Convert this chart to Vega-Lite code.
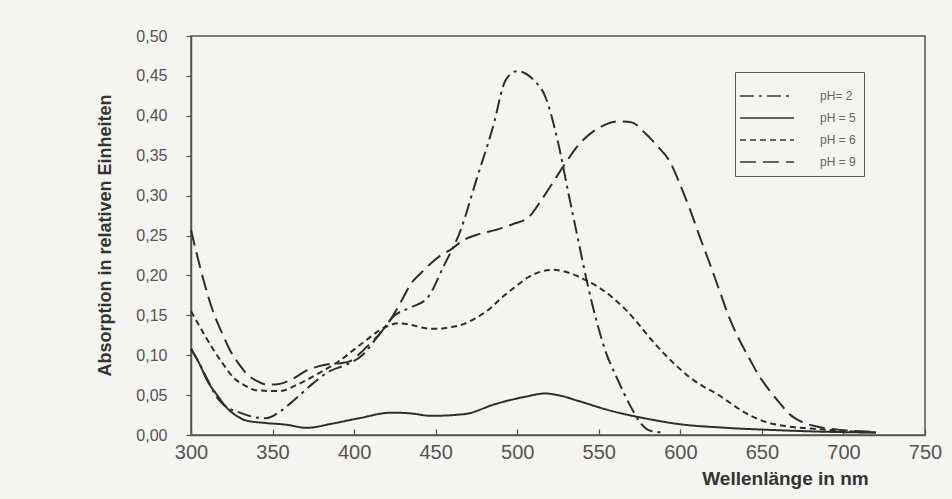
{
  "$schema": "https://vega.github.io/schema/vega-lite/v6.json",
  "width": 734,
  "height": 399,
  "autosize": {"type": "none"},
  "padding": {"left": 191, "top": 36, "right": 27, "bottom": 64},
  "background": "#f4f4f0",
  "config": {
    "font": "Liberation Sans",
    "view": {"stroke": "#555555", "strokeWidth": 1.5},
    "axis": {"grid": false, "domainColor": "#555555", "domainWidth": 1.5, "tickColor": "#555555", "tickWidth": 1.2, "labelColor": "#555555", "titleColor": "#333333", "labelFont": "Liberation Sans", "titleFont": "Liberation Sans", "labelFlush": false}
  },
  "data": {"values": [
    {"s": "pH= 2", "nm": 300, "a": 0.108}, {"s": "pH= 2", "nm": 305, "a": 0.09}, {"s": "pH= 2", "nm": 310, "a": 0.07}, {"s": "pH= 2", "nm": 315, "a": 0.05}, {"s": "pH= 2", "nm": 320, "a": 0.038}, {"s": "pH= 2", "nm": 330, "a": 0.028}, {"s": "pH= 2", "nm": 340, "a": 0.022}, {"s": "pH= 2", "nm": 346, "a": 0.021}, {"s": "pH= 2", "nm": 355, "a": 0.03}, {"s": "pH= 2", "nm": 365, "a": 0.047}, {"s": "pH= 2", "nm": 375, "a": 0.065}, {"s": "pH= 2", "nm": 385, "a": 0.08}, {"s": "pH= 2", "nm": 395, "a": 0.088}, {"s": "pH= 2", "nm": 405, "a": 0.1}, {"s": "pH= 2", "nm": 415, "a": 0.125}, {"s": "pH= 2", "nm": 425, "a": 0.15}, {"s": "pH= 2", "nm": 435, "a": 0.16}, {"s": "pH= 2", "nm": 445, "a": 0.172}, {"s": "pH= 2", "nm": 455, "a": 0.212}, {"s": "pH= 2", "nm": 465, "a": 0.255}, {"s": "pH= 2", "nm": 475, "a": 0.32}, {"s": "pH= 2", "nm": 485, "a": 0.385}, {"s": "pH= 2", "nm": 493, "a": 0.445}, {"s": "pH= 2", "nm": 500, "a": 0.456}, {"s": "pH= 2", "nm": 510, "a": 0.445}, {"s": "pH= 2", "nm": 517, "a": 0.425}, {"s": "pH= 2", "nm": 525, "a": 0.367}, {"s": "pH= 2", "nm": 531, "a": 0.307}, {"s": "pH= 2", "nm": 537, "a": 0.248}, {"s": "pH= 2", "nm": 543, "a": 0.19}, {"s": "pH= 2", "nm": 549, "a": 0.14}, {"s": "pH= 2", "nm": 555, "a": 0.1}, {"s": "pH= 2", "nm": 561, "a": 0.072}, {"s": "pH= 2", "nm": 570, "a": 0.034}, {"s": "pH= 2", "nm": 576, "a": 0.014}, {"s": "pH= 2", "nm": 582, "a": 0.005}, {"s": "pH= 2", "nm": 590, "a": 0.003},
    {"s": "pH = 5", "nm": 300, "a": 0.108}, {"s": "pH = 5", "nm": 305, "a": 0.09}, {"s": "pH = 5", "nm": 310, "a": 0.068}, {"s": "pH = 5", "nm": 316, "a": 0.05}, {"s": "pH = 5", "nm": 322, "a": 0.034}, {"s": "pH = 5", "nm": 328, "a": 0.024}, {"s": "pH = 5", "nm": 334, "a": 0.018}, {"s": "pH = 5", "nm": 346, "a": 0.015}, {"s": "pH = 5", "nm": 358, "a": 0.013}, {"s": "pH = 5", "nm": 371, "a": 0.009}, {"s": "pH = 5", "nm": 386, "a": 0.014}, {"s": "pH = 5", "nm": 403, "a": 0.021}, {"s": "pH = 5", "nm": 423, "a": 0.028}, {"s": "pH = 5", "nm": 435, "a": 0.027}, {"s": "pH = 5", "nm": 447, "a": 0.024}, {"s": "pH = 5", "nm": 467, "a": 0.026}, {"s": "pH = 5", "nm": 487, "a": 0.039}, {"s": "pH = 5", "nm": 505, "a": 0.048}, {"s": "pH = 5", "nm": 517, "a": 0.052}, {"s": "pH = 5", "nm": 527, "a": 0.049}, {"s": "pH = 5", "nm": 537, "a": 0.043}, {"s": "pH = 5", "nm": 558, "a": 0.03}, {"s": "pH = 5", "nm": 578, "a": 0.021}, {"s": "pH = 5", "nm": 598, "a": 0.014}, {"s": "pH = 5", "nm": 628, "a": 0.009}, {"s": "pH = 5", "nm": 660, "a": 0.006}, {"s": "pH = 5", "nm": 690, "a": 0.004}, {"s": "pH = 5", "nm": 720, "a": 0.003},
    {"s": "pH = 6", "nm": 300, "a": 0.155}, {"s": "pH = 6", "nm": 307, "a": 0.13}, {"s": "pH = 6", "nm": 314, "a": 0.106}, {"s": "pH = 6", "nm": 320, "a": 0.088}, {"s": "pH = 6", "nm": 326, "a": 0.072}, {"s": "pH = 6", "nm": 333, "a": 0.062}, {"s": "pH = 6", "nm": 340, "a": 0.056}, {"s": "pH = 6", "nm": 354, "a": 0.055}, {"s": "pH = 6", "nm": 366, "a": 0.064}, {"s": "pH = 6", "nm": 378, "a": 0.077}, {"s": "pH = 6", "nm": 391, "a": 0.093}, {"s": "pH = 6", "nm": 405, "a": 0.115}, {"s": "pH = 6", "nm": 419, "a": 0.135}, {"s": "pH = 6", "nm": 427, "a": 0.14}, {"s": "pH = 6", "nm": 435, "a": 0.138}, {"s": "pH = 6", "nm": 443, "a": 0.134}, {"s": "pH = 6", "nm": 451, "a": 0.133}, {"s": "pH = 6", "nm": 459, "a": 0.135}, {"s": "pH = 6", "nm": 467, "a": 0.139}, {"s": "pH = 6", "nm": 475, "a": 0.147}, {"s": "pH = 6", "nm": 483, "a": 0.158}, {"s": "pH = 6", "nm": 491, "a": 0.173}, {"s": "pH = 6", "nm": 499, "a": 0.186}, {"s": "pH = 6", "nm": 507, "a": 0.198}, {"s": "pH = 6", "nm": 515, "a": 0.205}, {"s": "pH = 6", "nm": 522, "a": 0.207}, {"s": "pH = 6", "nm": 532, "a": 0.203}, {"s": "pH = 6", "nm": 542, "a": 0.194}, {"s": "pH = 6", "nm": 550, "a": 0.185}, {"s": "pH = 6", "nm": 558, "a": 0.173}, {"s": "pH = 6", "nm": 566, "a": 0.158}, {"s": "pH = 6", "nm": 574, "a": 0.14}, {"s": "pH = 6", "nm": 582, "a": 0.12}, {"s": "pH = 6", "nm": 590, "a": 0.102}, {"s": "pH = 6", "nm": 598, "a": 0.086}, {"s": "pH = 6", "nm": 606, "a": 0.072}, {"s": "pH = 6", "nm": 614, "a": 0.061}, {"s": "pH = 6", "nm": 622, "a": 0.052}, {"s": "pH = 6", "nm": 630, "a": 0.041}, {"s": "pH = 6", "nm": 638, "a": 0.03}, {"s": "pH = 6", "nm": 650, "a": 0.018}, {"s": "pH = 6", "nm": 665, "a": 0.011}, {"s": "pH = 6", "nm": 680, "a": 0.008}, {"s": "pH = 6", "nm": 700, "a": 0.005}, {"s": "pH = 6", "nm": 720, "a": 0.003},
    {"s": "pH = 9", "nm": 300, "a": 0.257}, {"s": "pH = 9", "nm": 306, "a": 0.207}, {"s": "pH = 9", "nm": 314, "a": 0.152}, {"s": "pH = 9", "nm": 319, "a": 0.128}, {"s": "pH = 9", "nm": 324, "a": 0.106}, {"s": "pH = 9", "nm": 329, "a": 0.09}, {"s": "pH = 9", "nm": 334, "a": 0.077}, {"s": "pH = 9", "nm": 340, "a": 0.068}, {"s": "pH = 9", "nm": 347, "a": 0.063}, {"s": "pH = 9", "nm": 354, "a": 0.064}, {"s": "pH = 9", "nm": 362, "a": 0.07}, {"s": "pH = 9", "nm": 371, "a": 0.081}, {"s": "pH = 9", "nm": 378, "a": 0.086}, {"s": "pH = 9", "nm": 385, "a": 0.089}, {"s": "pH = 9", "nm": 392, "a": 0.09}, {"s": "pH = 9", "nm": 398, "a": 0.093}, {"s": "pH = 9", "nm": 404, "a": 0.103}, {"s": "pH = 9", "nm": 410, "a": 0.115}, {"s": "pH = 9", "nm": 417, "a": 0.13}, {"s": "pH = 9", "nm": 423, "a": 0.147}, {"s": "pH = 9", "nm": 429, "a": 0.168}, {"s": "pH = 9", "nm": 435, "a": 0.19}, {"s": "pH = 9", "nm": 441, "a": 0.203}, {"s": "pH = 9", "nm": 447, "a": 0.215}, {"s": "pH = 9", "nm": 453, "a": 0.225}, {"s": "pH = 9", "nm": 459, "a": 0.232}, {"s": "pH = 9", "nm": 467, "a": 0.244}, {"s": "pH = 9", "nm": 477, "a": 0.252}, {"s": "pH = 9", "nm": 487, "a": 0.257}, {"s": "pH = 9", "nm": 497, "a": 0.264}, {"s": "pH = 9", "nm": 507, "a": 0.273}, {"s": "pH = 9", "nm": 515, "a": 0.295}, {"s": "pH = 9", "nm": 523, "a": 0.32}, {"s": "pH = 9", "nm": 530, "a": 0.342}, {"s": "pH = 9", "nm": 537, "a": 0.362}, {"s": "pH = 9", "nm": 545, "a": 0.378}, {"s": "pH = 9", "nm": 553, "a": 0.388}, {"s": "pH = 9", "nm": 562, "a": 0.393}, {"s": "pH = 9", "nm": 570, "a": 0.392}, {"s": "pH = 9", "nm": 578, "a": 0.379}, {"s": "pH = 9", "nm": 586, "a": 0.362}, {"s": "pH = 9", "nm": 594, "a": 0.341}, {"s": "pH = 9", "nm": 600, "a": 0.313}, {"s": "pH = 9", "nm": 606, "a": 0.282}, {"s": "pH = 9", "nm": 612, "a": 0.248}, {"s": "pH = 9", "nm": 618, "a": 0.215}, {"s": "pH = 9", "nm": 624, "a": 0.181}, {"s": "pH = 9", "nm": 630, "a": 0.147}, {"s": "pH = 9", "nm": 636, "a": 0.12}, {"s": "pH = 9", "nm": 642, "a": 0.097}, {"s": "pH = 9", "nm": 648, "a": 0.075}, {"s": "pH = 9", "nm": 655, "a": 0.055}, {"s": "pH = 9", "nm": 661, "a": 0.04}, {"s": "pH = 9", "nm": 667, "a": 0.026}, {"s": "pH = 9", "nm": 675, "a": 0.016}, {"s": "pH = 9", "nm": 685, "a": 0.01}, {"s": "pH = 9", "nm": 700, "a": 0.006}, {"s": "pH = 9", "nm": 720, "a": 0.004}
  ]},
  "mark": {"type": "line", "interpolate": "monotone", "stroke": "#2e2e2e", "strokeWidth": 2},
  "encoding": {
    "x": {
      "field": "nm", "type": "quantitative",
      "scale": {"domain": [300, 750], "nice": false, "zero": false},
      "axis": {"values": [300, 350, 400, 450, 500, 550, 600, 650, 700, 750], "tickSize": -6, "labelFontSize": 20, "labelPadding": 13, "title": "Wellenlänge in nm", "titleFontSize": 19, "titleFontWeight": "bold", "titleX": 594, "titleY": 43, "titleAnchor": "middle", "titleAlign": "center", "titleBaseline": "middle"}
    },
    "y": {
      "field": "a", "type": "quantitative",
      "scale": {"domain": [0, 0.5], "nice": false},
      "axis": {"values": [0, 0.05, 0.1, 0.15, 0.2, 0.25, 0.3, 0.35, 0.4, 0.45, 0.5], "labelExpr": "replace(format(datum.value, '.2f'), '.', ',')", "tickSize": 5, "labelFontSize": 16, "labelPadding": 19, "title": "Absorption in relativen Einheiten", "titleFontSize": 18, "titleFontWeight": "bold", "titleAngle": 270, "titleX": -86, "titleY": 199, "titleAlign": "center", "titleBaseline": "middle"}
    },
    "strokeDash": {
      "field": "s", "type": "nominal",
      "scale": {"domain": ["pH= 2", "pH = 5", "pH = 6", "pH = 9"], "range": [[14, 5, 3, 5], [1, 0], [6, 4], [16, 7]]},
      "legend": {"orient": "none", "legendX": 544, "legendY": 36, "title": null, "symbolType": "M-1.27,0H2.33", "symbolSize": 900, "symbolStrokeWidth": 1.6, "symbolStrokeColor": "#333333", "symbolFillColor": "transparent", "labelFontSize": 12, "labelColor": "#666666", "labelOffset": 45, "rowPadding": 0, "padding": 8, "strokeColor": "#555555", "fillColor": "#f4f4f0", "labelLimit": 200}
    }
  }
}
